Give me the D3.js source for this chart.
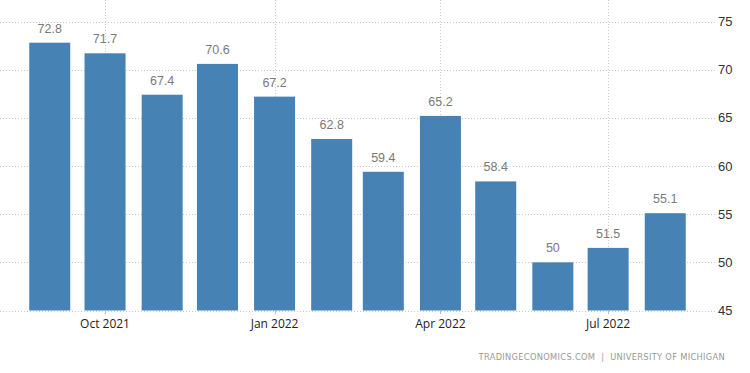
<!DOCTYPE html>
<html><head><meta charset="utf-8">
<script src="https://cdn.jsdelivr.net/npm/d3@7"></script>
<style>body{margin:0;background:#fff}svg{display:block}</style>
</head><body>
<svg id="chart" width="750" height="373"></svg>
<script>
const months = ["2021-09","2021-10","2021-11","2021-12","2022-01","2022-02","2022-03","2022-04","2022-05","2022-06","2022-07","2022-08"];
const values = [72.8,71.7,67.4,70.6,67.2,62.8,59.4,65.2,58.4,50,51.5,55.1];
const yTicks = [45,50,55,60,65,70,75];
const xTickDates = ["2021-10","2022-01","2022-04","2022-07"];
const xTickLabels = ["Oct 2021","Jan 2022","Apr 2022","Jul 2022"];
const source = "TRADINGECONOMICS.COM  |  UNIVERSITY OF MICHIGAN";

const parse = d3.timeParse("%Y-%m");
const svg = d3.select("#chart");
const x = d3.scaleUtc().domain([new Date(Date.UTC(2021,7,5)), new Date(Date.UTC(2022,7,28))]).range([0,715]);
const y = d3.scaleLinear().domain([45,75]).range([310.5,21.5]);
const toUTC = s => { const d = parse(s); return new Date(Date.UTC(d.getFullYear(), d.getMonth(), 1)); };
const barW = 41;

// grid
const g = svg.append("g");
g.selectAll("line.h").data(yTicks).join("line")
  .attr("x1",0).attr("x2",715)
  .attr("y1",d=>Math.round(y(d))+0.5).attr("y2",d=>Math.round(y(d))+0.5)
  .attr("stroke","#c8c8c8").attr("stroke-dasharray","1,2");
g.selectAll("line.v").data(xTickDates).join("line")
  .attr("x1",d=>Math.round(x(toUTC(d)))+0.5).attr("x2",d=>Math.round(x(toUTC(d)))+0.5)
  .attr("y1",0).attr("y2",310)
  .attr("stroke","#d0d0d0").attr("stroke-dasharray","1,2");

// bars
svg.selectAll("rect.bar").data(values).join("rect")
  .attr("x",(d,i)=>x(toUTC(months[i]))-barW/2)
  .attr("width",barW)
  .attr("y",d=>y(d))
  .attr("height",d=>y(45)-y(d))
  .attr("fill","#4682b4");

// value labels
svg.selectAll("text.val").data(values).join("text")
  .attr("x",(d,i)=>x(toUTC(months[i])))
  .attr("y",d=>y(d)-10)
  .attr("text-anchor","middle")
  .attr("font-family","Liberation Sans, Arial, sans-serif")
  .attr("font-size",12.5)
  .attr("fill","#7a7a7a")
  .text(d=>d);

// x ticks
svg.selectAll("line.xt").data(xTickDates).join("line")
  .attr("x1",d=>Math.round(x(toUTC(d)))+0.5).attr("x2",d=>Math.round(x(toUTC(d)))+0.5)
  .attr("y1",311).attr("y2",314)
  .attr("stroke","#bbb");
svg.selectAll("text.xl").data(xTickDates).join("text")
  .attr("x",d=>x(toUTC(d)))
  .attr("y",328)
  .attr("text-anchor","middle")
  .attr("font-family","Open Sans, sans-serif")
  .attr("font-size",12)
  .attr("fill","#222")
  .text((d,i)=>xTickLabels[i]);

// y labels
svg.selectAll("text.yl").data(yTicks).join("text")
  .attr("x",718)
  .attr("y",d=>y(d)+4.5)
  .attr("font-family","Liberation Sans, Arial, sans-serif")
  .attr("font-size",13)
  .attr("fill","#333")
  .text(d=>d);

// source
svg.append("text")
  .attr("x",725).attr("y",360)
  .attr("text-anchor","end")
  .attr("font-family","DejaVu Sans, sans-serif")
  .attr("font-size",8.3)
  .attr("letter-spacing",0.3)
  .attr("fill","#999")
  .attr("xml:space","preserve")
  .style("white-space","pre")
  .text(source);
</script>
</body></html>
